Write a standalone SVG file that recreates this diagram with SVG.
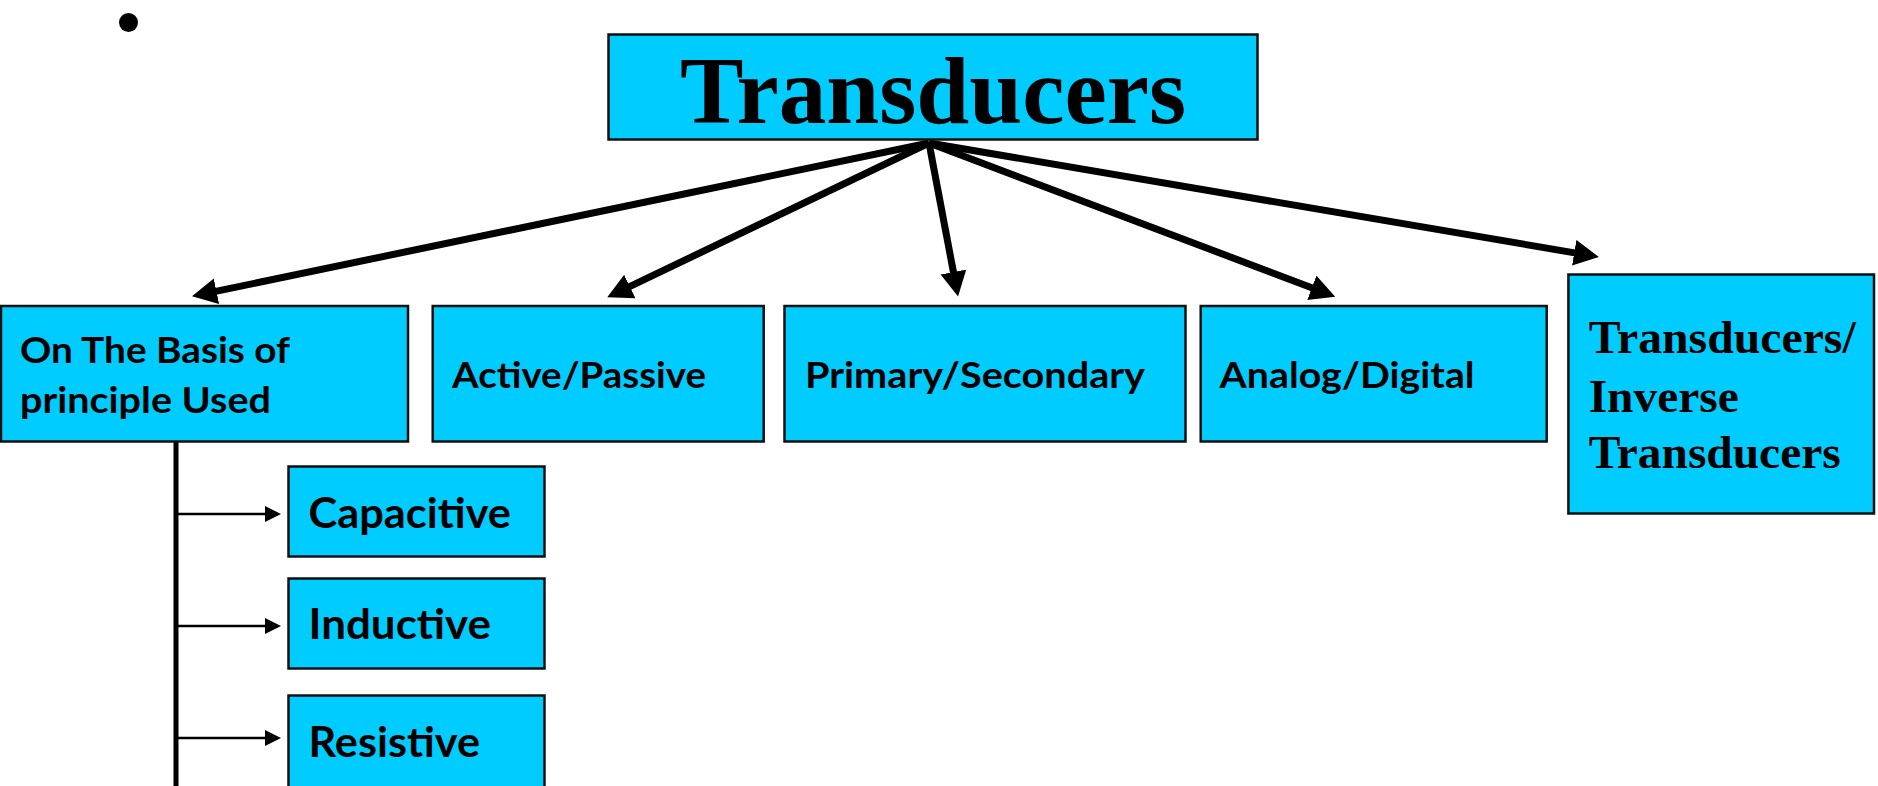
<svg xmlns="http://www.w3.org/2000/svg" width="1878" height="786" viewBox="0 0 1878 786">
  <style>
    .box { fill: #00CCFF; stroke: #111111; stroke-width: 2.5; }
    .lbl { font-family: Lato, "Open Sans", "Liberation Sans", sans-serif; font-weight: 700; fill: #000000; }
    .row { font-size: 37px; }
    .sub { font-size: 42px; }
    .serif { font-family: "Liberation Serif", "Times New Roman", serif; font-weight: 700; fill: #000000; }
    .conn { stroke: #000000; stroke-width: 7; fill: none; }
    .thin { stroke: #000000; stroke-width: 2.5; fill: none; }
  </style>
  <defs>
    <marker id="bigHead" markerUnits="userSpaceOnUse" markerWidth="28" markerHeight="28" refX="2" refY="13" orient="auto">
      <path d="M0,0 L25,13 L0,26 Z" fill="#000000"/>
    </marker>
    <marker id="smallHead" markerUnits="userSpaceOnUse" markerWidth="17" markerHeight="17" refX="2" refY="8" orient="auto">
      <path d="M0,0 L16,8 L0,16 Z" fill="#000000"/>
    </marker>
  </defs>

  <circle id="bullet" cx="128.5" cy="22.5" r="9.5" fill="#000000"/>

  <g id="connectors">
    <line class="conn" x1="929" y1="143" x2="214.5" y2="291.6" marker-end="url(#bigHead)"/>
    <line class="conn" x1="929" y1="143" x2="628" y2="287.4" marker-end="url(#bigHead)"/>
    <line class="conn" x1="929" y1="143" x2="953.8" y2="274" marker-end="url(#bigHead)"/>
    <line class="conn" x1="929" y1="143" x2="1313.7" y2="288.5" marker-end="url(#bigHead)"/>
    <line class="conn" x1="929" y1="143" x2="1576.2" y2="253.1" marker-end="url(#bigHead)"/>
    <line x1="176" y1="438" x2="176" y2="790" stroke="#000000" stroke-width="5"/>
    <line class="thin" x1="178" y1="514" x2="267" y2="514" marker-end="url(#smallHead)"/>
    <line class="thin" x1="178" y1="626" x2="267" y2="626" marker-end="url(#smallHead)"/>
    <line class="thin" x1="178" y1="738" x2="267" y2="738" marker-end="url(#smallHead)"/>
  </g>

  <g id="node-transducers">
    <rect class="box" x="608.5" y="34.5" width="649" height="105"/>
    <text class="serif" x="680" y="123" font-size="96" textLength="506" lengthAdjust="spacingAndGlyphs">Transducers</text>
  </g>

  <g id="node-principle">
    <rect class="box" x="1" y="306" width="407" height="135.5"/>
    <text class="lbl row" x="20" y="363" textLength="270" lengthAdjust="spacingAndGlyphs">On The Basis of</text>
    <text class="lbl row" x="20" y="413" textLength="251" lengthAdjust="spacingAndGlyphs">principle Used</text>
  </g>

  <g id="node-active">
    <rect class="box" x="432.7" y="306" width="331" height="135.5"/>
    <text class="lbl row" x="452" y="388" textLength="254" lengthAdjust="spacingAndGlyphs">Active/Passive</text>
  </g>

  <g id="node-primary">
    <rect class="box" x="784.5" y="306" width="401" height="135.5"/>
    <text class="lbl row" x="805" y="388" textLength="340" lengthAdjust="spacingAndGlyphs">Primary/Secondary</text>
  </g>

  <g id="node-analog">
    <rect class="box" x="1200.7" y="306" width="346" height="135.5"/>
    <text class="lbl row" x="1219.6" y="388" textLength="255" lengthAdjust="spacingAndGlyphs">Analog/Digital</text>
  </g>

  <g id="node-inverse">
    <rect class="box" x="1568.4" y="274.5" width="305.6" height="239"/>
    <text class="serif" x="1588.7" y="353" font-size="47" textLength="267" lengthAdjust="spacingAndGlyphs">Transducers/</text>
    <text class="serif" x="1588.7" y="412" font-size="47" textLength="150" lengthAdjust="spacingAndGlyphs">Inverse</text>
    <text class="serif" x="1588.7" y="468" font-size="47" textLength="252" lengthAdjust="spacingAndGlyphs">Transducers</text>
  </g>

  <g id="node-capacitive">
    <rect class="box" x="288.5" y="466.5" width="256" height="90"/>
    <text class="lbl sub" x="308.5" y="528" textLength="202.5" lengthAdjust="spacingAndGlyphs">Capacitive</text>
  </g>

  <g id="node-inductive">
    <rect class="box" x="288.5" y="578.5" width="256" height="90"/>
    <text class="lbl sub" x="308.5" y="639" textLength="182.5" lengthAdjust="spacingAndGlyphs">Inductive</text>
  </g>

  <g id="node-resistive">
    <rect class="box" x="288.5" y="695.5" width="256" height="100"/>
    <text class="lbl sub" x="308.5" y="757" textLength="171.5" lengthAdjust="spacingAndGlyphs">Resistive</text>
  </g>
</svg>
